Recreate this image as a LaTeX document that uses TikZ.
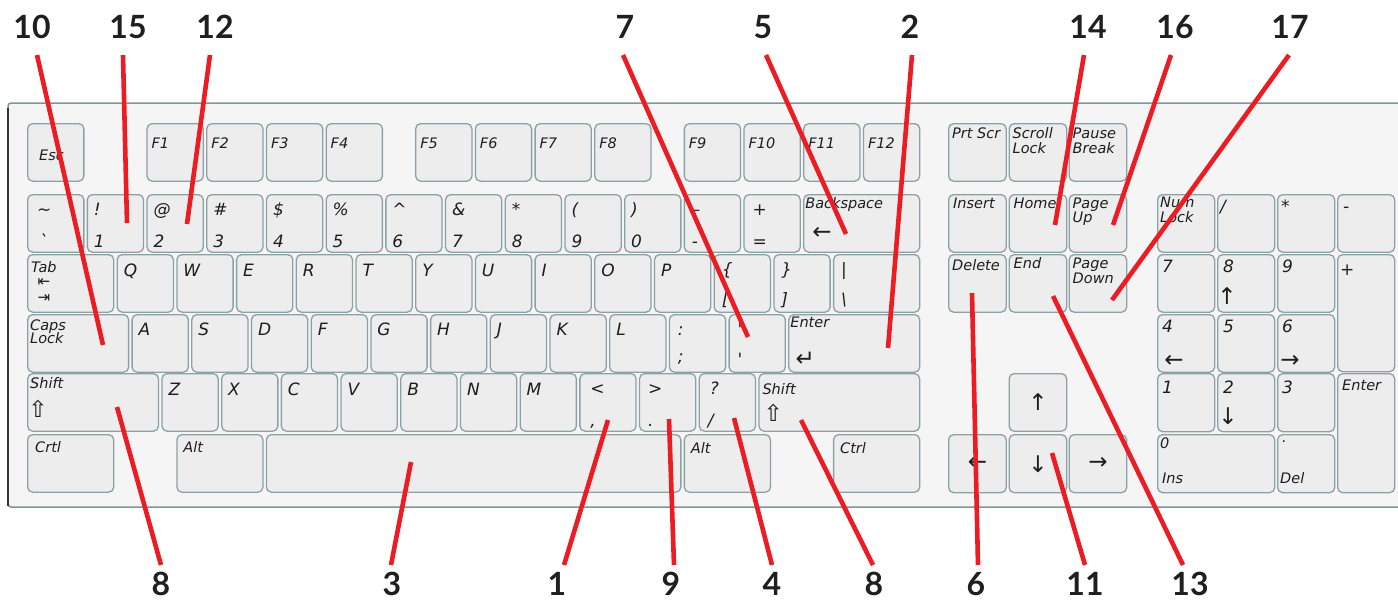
\documentclass[tikz,border=0pt]{standalone}
\usepackage{fontspec}
\newfontfamily\kf{DejaVu Sans}[ItalicFont={DejaVu Sans Oblique}]
\newfontfamily\af{DejaVu Sans}
\newfontfamily\lf{Lato}
\usetikzlibrary{calc}
\definecolor{keyfill}{HTML}{EDEDED}
\definecolor{keyedge}{HTML}{8CA1A6}
\definecolor{framefill}{HTML}{F5F5F5}
\definecolor{frameedge}{HTML}{7D959B}
\definecolor{callred}{HTML}{EC1C24}
\definecolor{ink}{HTML}{1E1E1E}
\tikzset{
 kb/.style={draw=keyedge,fill=keyfill,line width=1.3pt,rounded corners=5pt,anchor=north west,inner sep=0pt,minimum height=57.5pt},
 kt/.style={anchor=base west,inner sep=0pt,text=ink},
 big/.style={kt,font=\kf\itshape\fontsize{17}{17}\selectfont},
 sm/.style={kt,font=\kf\itshape\fontsize{14.5}{14.5}\selectfont},
 arw/.style={anchor=center,inner sep=0pt,text=ink,font=\af\fontsize{23}{23}\selectfont},
 tabarw/.style={arw,font=\af\fontsize{15}{15}\selectfont},
 callout/.style={draw=callred,line width=4.6pt},
 num/.style={anchor=base,inner sep=0pt,text=black!88,font=\lf\bfseries\fontsize{32}{32}\selectfont},
}
\newcommand\mk[4]{\node[kb,minimum width={#4*59.7-3.5}] (#1) at ({27+#2*59.7},#3) {};}
\newcommand\ak[5]{\node[kb,minimum width=#4,minimum height=#5] (#1) at (#2,#3) {};}
\newcommand\tb[5]{\node[big] (#1#2) at ($(#1.north west)+(#3,#4)$) {#5};}
\newcommand\ts[5]{\node[sm] (#1#2) at ($(#1.north west)+(#3,#4)$) {#5};}
\newcommand\ta[5]{\node[arw] (#1#2) at ($(#1.north west)+(#3,#4)$) {#5};}
\begin{document}
\begin{tikzpicture}[x=1pt,y=-1pt]
\useasboundingbox (0,0) rectangle (1398,600);
% frame
\draw[fill=framefill,draw=frameedge,line width=1.5pt,rounded corners=3pt] (8,103) rectangle (1412,507);
\draw[black!80,line width=2.5pt] (8,108) -- (8,506);
% function row
\mk{esc}{0}{123}{1}\ts{esc}{t}{12}{37}{Esc}
\foreach \n/\i/\t in {f1/2/F1,f2/3/F2,f3/4/F3,f4/5/F4,f5/6.5/F5,f6/7.5/F6,f7/8.5/F7,f8/9.5/F8,f9/11/F9,f10/12/F10,f11/13/F11,f12/14/F12}{\mk{\n}{\i}{123}{1}\ts{\n}{t}{5}{25}{\t}}
% number row
\mk{tilde}{0}{194}{1}\tb{tilde}{u}{10}{21}{\textasciitilde}\tb{tilde}{d}{12}{53}{\textasciigrave}
\foreach \n/\i/\a/\b in {n1/1/!/1,n2/2/@/2,n3/3/\#/3,n4/4/\$/4,n5/5/\%/5,n6/6/\textasciicircum/6,n7/7/\&/7,n8/8/*/8,n9/9/(/9,n0/10/)/0}{\mk{\n}{\i}{194}{1}\tb{\n}{u}{7}{21}{\a}\tb{\n}{d}{7}{53}{\b}}
\mk{minus}{11}{194}{1}\tb{minus}{u}{8}{21}{–}\tb{minus}{d}{8}{53}{-}
\mk{equal}{12}{194}{1}\tb{equal}{u}{9}{21}{+}\tb{equal}{d}{9}{53}{=}
\mk{bksp}{13}{194}{2}\ts{bksp}{t}{2}{14}{Backspace}\ta{bksp}{a}{19}{39}{←}
% Q row
\mk{tab}{0}{254}{1.5}\ts{tab}{t}{4}{18}{Tab}
\node[tabarw] (taba) at ($(tab.north west)+(17,29)$) {⇤};
\node[tabarw] (tabb) at ($(tab.north west)+(17,45)$) {⇥};
\foreach \n/\i/\t in {q/1.5/Q,w/2.5/W,e/3.5/E,r/4.5/R,t/5.5/T,y/6.5/Y,u/7.5/U,i/8.5/I,o/9.5/O,p/10.5/P}{\mk{\n}{\i}{254}{1}\tb{\n}{t}{7}{22}{\t}}
\mk{lbr}{11.5}{254}{1}\tb{lbr}{u}{8}{21}{\{}\tb{lbr}{d}{8}{51}{[}
\mk{rbr}{12.5}{254}{1}\tb{rbr}{u}{8}{21}{\}}\tb{rbr}{d}{8}{51}{]}
\mk{bsl}{13.5}{254}{1.5}\tb{bsl}{u}{8}{21}{|}\tb{bsl}{d}{8}{51}{\textbackslash}
% A row
\mk{caps}{0}{314}{1.75}\ts{caps}{a}{3}{16}{Caps}\ts{caps}{b}{3}{29}{Lock}
\foreach \n/\i/\t in {a/1.75/A,s/2.75/S,d/3.75/D,f/4.75/F,g/5.75/G,h/6.75/H,j/7.75/J,k/8.75/K,l/9.75/L}{\mk{\n}{\i}{314}{1}\tb{\n}{t}{7}{21}{\t}}
\mk{semi}{10.75}{314}{1}\tb{semi}{u}{9}{21}{:}\tb{semi}{d}{9}{48}{;}
\mk{quote}{11.75}{314}{1}\tb{quote}{u}{9}{21}{\textquotedbl}\tb{quote}{d}{9}{51}{\textquotesingle}
\mk{enter}{12.75}{314}{2.25}\ts{enter}{t}{2}{13}{Enter}\ta{enter}{a}{17}{45}{↵}
% Z row
\mk{lshift}{0}{373}{2.25}\ts{lshift}{t}{3}{15}{Shift}\ta{lshift}{a}{11}{36}{⇧}
\foreach \n/\i/\t in {z/2.25/Z,x/3.25/X,c/4.25/C,v/5.25/V,b/6.25/B,n/7.25/N,m/8.25/M}{\mk{\n}{\i}{373}{1}\tb{\n}{t}{7}{22}{\t}}
\mk{comma}{9.25}{373}{1}\tb{comma}{u}{11}{21}{<}\tb{comma}{d}{11}{53}{,}
\mk{period}{10.25}{373}{1}\tb{period}{u}{9}{21}{>}\tb{period}{d}{9}{53}{.}
\mk{slash}{11.25}{373}{1}\tb{slash}{u}{11}{21}{?}\tb{slash}{d}{9}{53}{/}
\mk{rshift}{12.25}{373}{2.75}\ts{rshift}{t}{4}{21}{Shift}\ta{rshift}{a}{15}{40}{⇧}
% bottom row
\mk{lctrl}{0}{434}{1.5}\ts{lctrl}{t}{8}{18}{Crtl}
\mk{lalt}{2.5}{434}{1.5}\ts{lalt}{t}{7}{18}{Alt}
\mk{space}{4}{434}{7}
\mk{ralt}{11}{434}{1.5}\ts{ralt}{t}{7}{19}{Alt}
\mk{rctrl}{13.5}{434}{1.5}\ts{rctrl}{t}{7}{19}{Ctrl}
% navigation cluster
\ak{prt}{948}{123}{57.5}{57.5}\ts{prt}{t}{4}{15}{Prt Scr}
\ak{scrl}{1008.5}{123}{57.5}{57.5}\ts{scrl}{a}{4}{15}{Scroll}\ts{scrl}{b}{4}{30}{Lock}
\ak{pause}{1068.5}{123}{57.5}{57.5}\ts{pause}{a}{4}{15}{Pause}\ts{pause}{b}{4}{30}{Break}
\ak{ins}{948}{194}{57.5}{57.5}\ts{ins}{t}{5}{14}{Insert}
\ak{home}{1008.5}{194}{57.5}{57.5}\ts{home}{t}{5}{14}{Home}
\ak{pgup}{1068.5}{194}{57.5}{57.5}\ts{pgup}{a}{4}{14}{Page}\ts{pgup}{b}{4}{28}{Up}
\ak{del}{948}{254}{57.5}{57.5}\ts{del}{t}{4}{16}{Delete}
\ak{endk}{1008.5}{254}{57.5}{57.5}\ts{endk}{t}{5}{14}{End}
\ak{pgdn}{1068.5}{254}{57.5}{57.5}\ts{pgdn}{a}{4}{14}{Page}\ts{pgdn}{b}{4}{29}{Down}
\ak{aup}{1008.5}{373}{57.5}{57.5}\node[arw] (aupt) at (aup.center) {↑};
\ak{aleft}{948}{434}{57.5}{58}\node[arw] (aleftt) at (aleft.center) {←};
\ak{adown}{1008.5}{434}{57.5}{58}\node[arw] (adownt) at (adown.center) {↓};
\ak{aright}{1068.5}{434}{57.5}{58}\node[arw] (arightt) at (aright.center) {→};
% numeric keypad
\ak{numlk}{1157}{194}{57}{57.5}\ts{numlk}{a}{3}{13}{Num}\ts{numlk}{b}{3}{28}{Lock}
\ak{kpdiv}{1217}{194}{57}{57.5}\tb{kpdiv}{t}{3}{18}{/}
\ak{kpmul}{1277}{194}{57}{57.5}\tb{kpmul}{t}{4}{18}{*}
\ak{kpsub}{1337}{194}{57}{57.5}\tb{kpsub}{t}{6}{18}{-}
\ak{kp7}{1157}{254}{57}{57.5}\tb{kp7}{t}{5}{18}{7}
\ak{kp8}{1217}{254}{57}{57.5}\tb{kp8}{t}{6}{18}{8}\ta{kp8}{a}{10}{42}{↑}
\ak{kp9}{1277}{254}{57}{57.5}\tb{kp9}{t}{5}{18}{9}
\ak{kpadd}{1337}{254}{57}{117}\tb{kpadd}{t}{3}{21}{+}
\ak{kp4}{1157}{314}{57}{57.5}\tb{kp4}{t}{5}{18}{4}\ta{kp4}{a}{17}{47}{←}
\ak{kp5}{1217}{314}{57}{57.5}\tb{kp5}{t}{6}{18}{5}
\ak{kp6}{1277}{314}{57}{57.5}\tb{kp6}{t}{5}{18}{6}\ta{kp6}{a}{13}{47}{→}
\ak{kp1}{1157}{373}{57}{58}\tb{kp1}{t}{5}{20}{1}
\ak{kp2}{1217}{373}{57}{58}\tb{kp2}{t}{6}{20}{2}\ta{kp2}{a}{11}{43}{↓}
\ak{kp3}{1277}{373}{57}{58}\tb{kp3}{t}{5}{20}{3}
\ak{kpent}{1337}{373}{57}{119}\ts{kpent}{t}{5}{17}{Enter}
\ak{kp0}{1157}{434}{117}{58}\ts{kp0}{t}{3}{14}{0}\ts{kp0}{b}{5}{49}{Ins}
\ak{kpdot}{1277}{434}{57}{58}\ts{kpdot}{t}{5}{8}{.}\ts{kpdot}{b}{3}{49}{Del}
% callout labels
\node[num] (l10) at (32,38) {10};
\node[num] (l15) at (128,38) {15};
\node[num] (l12) at (215,38) {12};
\node[num] (l7) at (625,38) {7};
\node[num] (l5) at (763,38) {5};
\node[num] (l2) at (910,38) {2};
\node[num] (l14) at (1088,38) {14};
\node[num] (l16) at (1175,38) {16};
\node[num] (l17) at (1290,38) {17};
\node[num] (b8a) at (161,595) {8};
\node[num] (b3) at (392,595) {3};
\node[num] (b1) at (557,595) {1};
\node[num] (b9) at (671,595) {9};
\node[num] (b4) at (772,595) {4};
\node[num] (b8b) at (874,595) {8};
\node[num] (b6) at (976,595) {6};
\node[num] (b11) at (1085,595) {11};
\node[num] (b13) at (1190,595) {13};
% callout line ends
\coordinate (s10) at (37,55);   \coordinate (e10) at (103,345);
\coordinate (s15) at (123,55);  \coordinate (e15) at (127,223);
\coordinate (s12) at (210,55);  \coordinate (e12) at (187,224);
\coordinate (s7) at (623,55);   \coordinate (e7) at (748,337);
\coordinate (s5) at (766,55);   \coordinate (e5) at (846,234);
\coordinate (s2) at (912,55);   \coordinate (e2) at (888,348);
\coordinate (s14) at (1084,55); \coordinate (e14) at (1055,225);
\coordinate (s16) at (1171,55); \coordinate (e16) at (1113,225);
\coordinate (s17) at (1289,55); \coordinate (e17) at (1112,300);
\coordinate (e8a) at (117,407); \coordinate (s8a) at (161,565);
\coordinate (e3) at (411,462);  \coordinate (s3) at (391,565);
\coordinate (e1) at (608,420);  \coordinate (s1) at (564,565);
\coordinate (e9) at (669,419);  \coordinate (s9) at (674,565);
\coordinate (e4) at (734,418);  \coordinate (s4) at (772,565);
\coordinate (e8b) at (801,420); \coordinate (s8b) at (873,565);
\coordinate (e6) at (972,293);  \coordinate (s6) at (978,565);
\coordinate (e11) at (1052,453);\coordinate (s11) at (1085,565);
\coordinate (e13) at (1053,296);\coordinate (s13) at (1183,565);
\foreach \c in {10,15,12,7,5,2,14,16,17,8a,3,1,9,4,8b,6,11,13}{\draw[callout] (s\c) -- (e\c);}
\end{tikzpicture}
\end{document}
